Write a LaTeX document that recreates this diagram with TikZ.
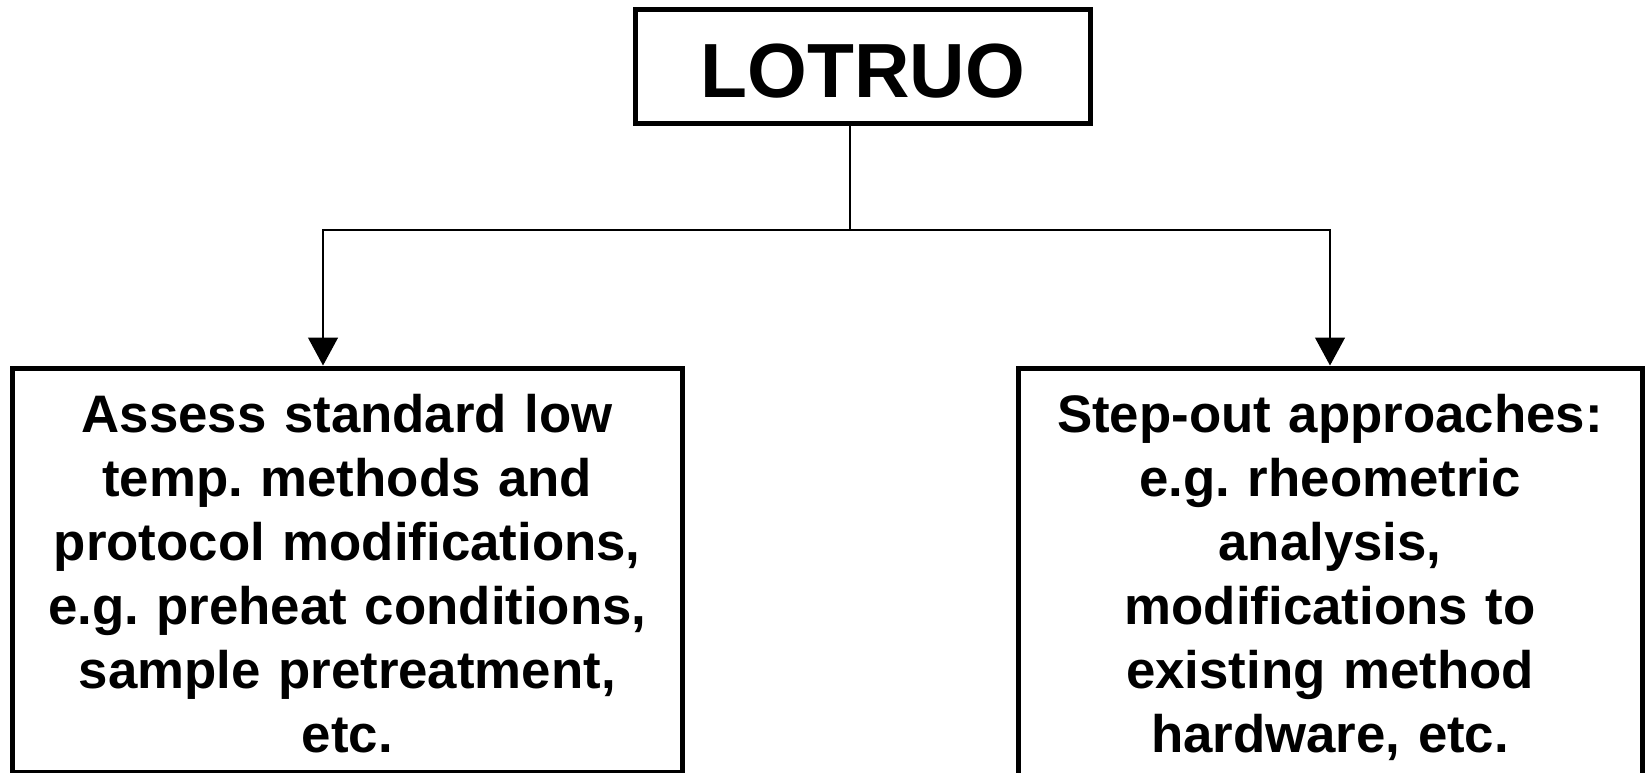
\documentclass[tikz,border=0pt]{standalone}
\usepackage{fontspec}
\setmainfont{Liberation Sans}
\frenchspacing
\usetikzlibrary{arrows.meta,positioning,calc}
\tikzset{topbox/.style={draw,line width=1.25pt,minimum width=113.6pt,minimum height=28.5pt,inner sep=0pt,text height=15.25pt,text depth=0pt,font=\fontsize{19.2}{23}\selectfont\bfseries}}
\tikzset{lowbox/.style={draw,line width=1.25pt,anchor=north,align=center,inner xsep=2pt,inner ysep=4.9pt,font=\fontsize{13.2}{16}\selectfont\bfseries}}
\tikzstyle{link}=[line width=0.33pt]
\tikzstyle{arr}=[link,-{Triangle[length=7pt,width=7.5pt]}]

\begin{document}
\begin{tikzpicture}[x=0.25pt,y=-0.25pt]
    \useasboundingbox (0,0) rectangle (1646,772);
    \node [topbox] (lotruo) at (863,66.5) {LOTRUO};
    \node [lowbox,text width=163.4pt] (assess) at (347.25,365.5) {\strut Assess standard low\\ temp. methods and\\ protocol modifications,\\ e.g. preheat conditions,\\ sample pretreatment,\\ etc.};
    \node [lowbox,text width=152pt] (stepout) at (1330,365.5) {\strut Step-out approaches:\\ e.g. rheometric\\ analysis,\\ modifications to\\ existing method\\ hardware, etc.};
    \coordinate (split) at (850,230);
    \draw [link] (lotruo.south -| split) -- (split);
    \draw [arr] (split) -| ([xshift=-6.06pt]assess.north);
    \draw [arr] (split) -| (stepout.north);
\end{tikzpicture}
\end{document}
